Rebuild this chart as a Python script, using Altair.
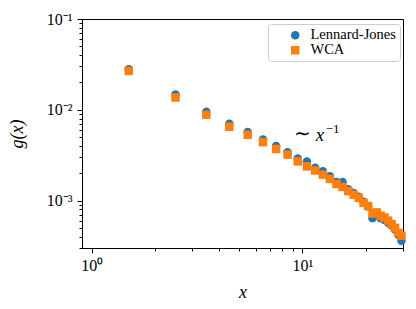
import altair as alt
import pandas as pd

# Data
x_vals = [1.5, 2.5, 3.5, 4.5, 5.5, 6.5, 7.5, 8.5, 9.5, 10.5, 11.5, 12.5, 13.5, 14.5,
          15.5, 16.5, 17.5, 18.5, 19.5, 20.5, 21.5, 22.5, 23.5, 24.5, 25.5, 26.5,
          27.5, 28.5, 29.5]
lj_vals = [0.0279, 0.0147, 0.0095, 0.0070, 0.0057, 0.0047, 0.0040, 0.0034, 0.0029,
           0.0027, 0.0023, 0.0021, 0.00185, 0.0016, 0.00160, 0.00133, 0.00121,
           0.00110, 0.00097, 0.00086, 0.00064, 0.00068, 0.00064, 0.00061, 0.00057,
           0.00053, 0.00048, 0.00042, 0.00036]
wca_vals = [0.0268, 0.01365, 0.0088, 0.0065, 0.0053, 0.0044, 0.0037, 0.0032, 0.0027,
            0.00238, 0.00214, 0.00193, 0.00173, 0.00152, 0.00141, 0.00127, 0.00116,
            0.00107, 0.00094, 0.00087, 0.00072, 0.00074, 0.00068, 0.00065, 0.00060,
            0.00055, 0.00050, 0.00044, 0.00041]
series_names = ["Lennard-Jones", "WCA"]
series_colors = ["#1f77b4", "#ff7f0e"]
series_shapes = ["circle", "square"]

x_ticks = [1, 2, 3, 4, 5, 6, 7, 8, 9, 10, 20, 30]
y_ticks = [0.0003, 0.0004, 0.0005, 0.0006, 0.0007, 0.0008, 0.0009,
           0.001, 0.002, 0.003, 0.004, 0.005, 0.006, 0.007, 0.008, 0.009,
           0.01, 0.02, 0.03, 0.04, 0.05, 0.06, 0.07, 0.08, 0.09, 0.1]
x_domain = [0.9, 30]
y_domain = [0.0003, 0.1]

annot_x = [11.56]
annot_y = [0.00456]

rows = []
for name, vals in zip(series_names, [lj_vals, wca_vals]):
    for xv, yv in zip(x_vals, vals):
        rows.append({"x": xv, "g": yv, "series": name})
df = pd.DataFrame(rows)
ann = pd.DataFrame({"x": annot_x, "g": annot_y})

FONT = "Liberation Serif, Times New Roman, Times, serif"
major_test = "abs(log(datum.value)/LN10 - round(log(datum.value)/LN10)) < 1e-6"
sup_expr = ("abs(log(datum.value)/LN10 - round(log(datum.value)/LN10)) < 1e-6 ? "
            "'10' + replace(replace(replace(replace(replace(toString(round(log(datum.value)/LN10)),"
            "'-', '⁻'), '0', '⁰'), '1', '¹'), '2', '²'), '3', '³') : ''")

xscale = alt.Scale(type="log", domain=x_domain, nice=False)
yscale = alt.Scale(type="log", domain=y_domain, nice=False)

xaxis = alt.Axis(values=x_ticks, labelExpr=sup_expr, grid=False,
                 tickSize={"condition": {"test": major_test, "value": 5}, "value": 3},
                 tickColor="black", domainColor="black", labelColor="black",
                 labelFont=FONT, labelFontSize=16, labelPadding=4,
                 title="x", titleFont=FONT, titleFontStyle="italic",
                 titleFontWeight="normal", titleFontSize=18, titlePadding=10,
                 titleColor="black", labelFlush=False)
yaxis = alt.Axis(values=y_ticks, labelExpr=sup_expr, grid=False,
                 tickSize={"condition": {"test": major_test, "value": 5}, "value": 3},
                 tickColor="black", domainColor="black", labelColor="black",
                 labelFont=FONT, labelFontSize=16, labelPadding=5,
                 title="g(x)", titleFont=FONT, titleFontStyle="italic",
                 titleFontWeight="normal", titleFontSize=18, titlePadding=20,
                 titleColor="black", labelFlush=False)

points = alt.Chart(df).mark_point(filled=True, size=72, opacity=1).encode(
    x=alt.X("x:Q", scale=xscale, axis=xaxis),
    y=alt.Y("g:Q", scale=yscale, axis=yaxis),
    color=alt.Color("series:N",
                    scale=alt.Scale(domain=series_names, range=series_colors),
                    legend=alt.Legend(title=None, orient="none", legendX=186, legendY=5,
                                      labelFont=FONT, labelFontSize=14.5, labelColor="black",
                                      labelOffset=8, symbolOffset=16, symbolSize=72,
                                      rowPadding=0, padding=4, strokeColor="#cccccc",
                                      fillColor="white", cornerRadius=3,
                                      symbolStrokeWidth=0)),
    shape=alt.Shape("series:N",
                    scale=alt.Scale(domain=series_names, range=series_shapes),
                    legend=None),
    order=alt.Order("order_idx:Q"),
).transform_calculate(order_idx="datum.series == 'WCA' ? 1 : 0")

tilde = alt.Chart(ann).mark_text(text="∼", font=FONT, fontSize=20, align="right",
                                 baseline="alphabetic", dx=-5, dy=-1, color="black").encode(
    x=alt.X("x:Q", scale=xscale), y=alt.Y("g:Q", scale=yscale))
xtxt = alt.Chart(ann).mark_text(text="x", font=FONT, fontSize=19, fontStyle="italic",
                                align="left", baseline="alphabetic", color="black").encode(
    x=alt.X("x:Q", scale=xscale), y=alt.Y("g:Q", scale=yscale))
sup = alt.Chart(ann).mark_text(text="−1", font=FONT, fontSize=13, align="left",
                               baseline="alphabetic", dx=10, dy=-8, color="black").encode(
    x=alt.X("x:Q", scale=xscale), y=alt.Y("g:Q", scale=yscale))

chart = alt.layer(points, tilde, xtxt, sup).properties(
    width=321, height=229,
    autosize=alt.AutoSizeParams(type="none"),
    padding={"left": 74, "top": 11, "right": 5, "bottom": 57},
).configure_view(stroke="black", strokeWidth=1).configure_axis(domainWidth=1, tickWidth=1)

chart.save("out.html", embed_options={"renderer": "svg", "actions": False})
